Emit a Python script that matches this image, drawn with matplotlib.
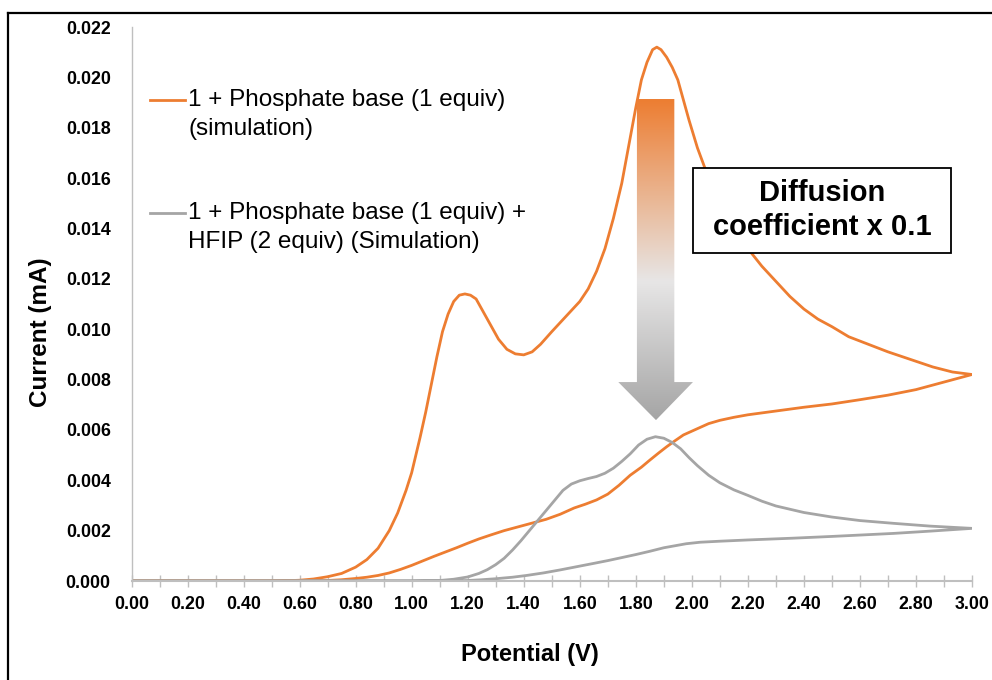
import numpy as np
import matplotlib
matplotlib.use('Agg')
import matplotlib.pyplot as plt
from matplotlib.patches import Polygon, Rectangle
from matplotlib.lines import Line2D
from matplotlib.colors import LinearSegmentedColormap
from matplotlib.ticker import MultipleLocator, FormatStrFormatter

plt.rcParams['font.family'] = ['Liberation Sans', 'DejaVu Sans']

# orange: 1 + phosphate base (1 equiv), simulated CV (forward then reverse scan)
orange_v = [0.00, 0.50, 0.55, 0.60, 0.65, 0.70, 0.75, 0.80, 0.84, 0.88, 0.92, 0.95,
            0.98, 1.00, 1.03, 1.05, 1.07, 1.09, 1.11, 1.13, 1.15, 1.17, 1.19, 1.21,
            1.23, 1.25, 1.28, 1.31, 1.34, 1.37, 1.40, 1.43, 1.46, 1.50, 1.55, 1.60,
            1.63, 1.66, 1.69, 1.72, 1.75, 1.78, 1.80, 1.82, 1.84, 1.86, 1.875, 1.89,
            1.91, 1.93, 1.95, 1.97, 1.99, 2.02, 2.05, 2.08, 2.11, 2.15, 2.20, 2.25,
            2.30, 2.35, 2.40, 2.45, 2.50, 2.56, 2.63, 2.70, 2.78, 2.86, 2.93, 3.00,
            2.95, 2.90, 2.80, 2.70, 2.60, 2.50, 2.40, 2.30, 2.20, 2.15, 2.10, 2.06,
            2.03, 2.00, 1.97, 1.94, 1.91, 1.88, 1.85, 1.82, 1.78, 1.74, 1.70, 1.66,
            1.62, 1.58, 1.53, 1.48, 1.43, 1.38, 1.33, 1.28, 1.24, 1.20, 1.16, 1.12,
            1.08, 1.04, 1.00, 0.96, 0.92, 0.88, 0.84, 0.80, 0.75, 0.70, 0.60, 0.00]
orange_i = [0.0, 0.0, 0.00001, 0.00003, 0.00008, 0.00017, 0.0003, 0.00055, 0.00085,
            0.0013, 0.0020, 0.0027, 0.0036, 0.0043, 0.0057, 0.0067, 0.0078, 0.0089,
            0.0099, 0.0106, 0.0111, 0.01135, 0.0114, 0.01135, 0.0112, 0.0108, 0.0102,
            0.0096, 0.0092, 0.00902, 0.00898, 0.0091, 0.0094, 0.0099, 0.0105, 0.0111,
            0.0116, 0.0123, 0.0132, 0.0144, 0.0158, 0.0176, 0.0188, 0.0199, 0.0206,
            0.0211, 0.0212, 0.0211, 0.0208, 0.0204, 0.0199, 0.0191, 0.0183, 0.0172,
            0.0163, 0.0155, 0.0148, 0.0140, 0.0132, 0.0125, 0.0119, 0.0113, 0.0108,
            0.0104, 0.0101, 0.0097, 0.0094, 0.0091, 0.0088, 0.0085, 0.0083, 0.0082,
            0.00805, 0.0079, 0.0076, 0.00738, 0.0072, 0.00703, 0.0069, 0.00675, 0.0066,
            0.0065, 0.00638, 0.00625, 0.0061, 0.00595, 0.0058, 0.00557, 0.00533,
            0.00507, 0.0048, 0.00452, 0.0042, 0.0038, 0.00345, 0.00322, 0.00305,
            0.0029, 0.00265, 0.00245, 0.0023, 0.00215, 0.0020, 0.00182, 0.00167,
            0.0015, 0.00132, 0.00115, 0.00098, 0.0008, 0.00062, 0.00046, 0.00032,
            0.00022, 0.00015, 0.0001, 0.00005, 0.00002, 0.0, 0.0]

# gray: 1 + phosphate base (1 equiv) + HFIP (2 equiv), simulated CV
gray_v = [0.00, 1.00, 1.10, 1.15, 1.20, 1.24, 1.27, 1.30, 1.33, 1.36, 1.39, 1.42, 1.45,
          1.48, 1.51, 1.54, 1.57, 1.60, 1.63, 1.66, 1.69, 1.72, 1.75, 1.78, 1.81, 1.84,
          1.87, 1.90, 1.93, 1.96, 1.99, 2.02, 2.06, 2.10, 2.15, 2.20, 2.25, 2.30, 2.40,
          2.50, 2.60, 2.72, 2.85, 3.00,
          2.85, 2.72, 2.50, 2.36, 2.20, 2.10, 2.03, 1.98, 1.94, 1.90, 1.85, 1.80, 1.75,
          1.70, 1.65, 1.59, 1.53, 1.47, 1.41, 1.36, 1.30, 1.25, 1.20, 1.10, 0.00]
gray_i = [0.0, 0.0, 0.00002, 0.00007, 0.00016, 0.0003, 0.00045, 0.00065, 0.0009, 0.00123,
          0.0016, 0.0020, 0.0024, 0.0028, 0.0032, 0.0036, 0.00385, 0.00398, 0.00407,
          0.00415, 0.00428, 0.00448, 0.00475, 0.00505, 0.0054, 0.00563, 0.00573, 0.00567,
          0.0055, 0.00525, 0.0049, 0.00458, 0.0042, 0.0039, 0.00362, 0.0034, 0.00317,
          0.00298, 0.00272, 0.00254, 0.0024, 0.00229, 0.00218, 0.00209,
          0.00198, 0.00189, 0.00177, 0.0017, 0.00163, 0.00158, 0.00154, 0.00148, 0.0014,
          0.00132, 0.00118, 0.00105, 0.00093, 0.00081, 0.0007, 0.00057, 0.00044, 0.00032,
          0.00022, 0.00015, 0.00009, 0.00005, 0.00002, 0.0, 0.0]

orange_label = ['1 + Phosphate base (1 equiv)', '(simulation)']
gray_label = ['1 + Phosphate base (1 equiv) +', 'HFIP (2 equiv) (Simulation)']

ORANGE = '#ED7D31'
GRAY = '#A5A5A5'
AXIS = '#BFBFBF'

W, H = 992, 680
fig = plt.figure(figsize=(W / 100, H / 100), dpi=100)
ax = fig.add_axes([131.5 / W, 1 - 581 / H, 840.5 / W, 554 / H])

ax.plot(orange_v, orange_i, color=ORANGE, lw=2.0, zorder=2, solid_joinstyle='round')
ax.plot(gray_v, gray_i, color=GRAY, lw=2.0, zorder=2, solid_joinstyle='round')

ax.set_xlim(0, 3.0)
ax.set_ylim(0, 0.022)
ax.xaxis.set_major_locator(MultipleLocator(0.2))
ax.xaxis.set_minor_locator(MultipleLocator(0.1))
ax.yaxis.set_major_locator(MultipleLocator(0.002))
ax.xaxis.set_major_formatter(FormatStrFormatter('%.2f'))
ax.yaxis.set_major_formatter(FormatStrFormatter('%.3f'))

for s in ['top', 'right']:
    ax.spines[s].set_visible(False)
ax.spines['left'].set_color(AXIS)
ax.spines['left'].set_linewidth(1.0)
ax.spines['bottom'].set_color(AXIS)
ax.spines['bottom'].set_linewidth(1.5)

ax.tick_params(axis='x', which='both', direction='inout', length=8, width=1,
               color=AXIS, labelsize=12.8, pad=7)
ax.tick_params(axis='y', length=0, labelsize=12.8, pad=15)
for lab in ax.get_xticklabels() + ax.get_yticklabels():
    lab.set_fontweight('bold')

ax.set_xlabel('Potential (V)', fontsize=17, fontweight='bold')
ax.xaxis.label.set_verticalalignment('center')
ax.xaxis.set_label_coords((530 - 131.5) / 840.5, (581 - 654) / 554)
ax.set_ylabel('Current (mA)', fontsize=17.5, fontweight='bold')
ax.yaxis.label.set_verticalalignment('center')
ax.yaxis.set_label_coords((41 - 131.5) / 840.5, (581 - 332) / 554)

# gradient arrow (orange -> light gray -> gray)
arrow_pts = [(1.804, 0.01914), (1.9375, 0.01914), (1.9375, 0.0079), (2.004, 0.0079),
             (1.872, 0.00639), (1.7375, 0.0079), (1.804, 0.0079)]
arrow = Polygon(arrow_pts, closed=True, transform=ax.transData,
                facecolor='none', edgecolor='none')
ax.add_patch(arrow)
cmap = LinearSegmentedColormap.from_list(
    'arr', [(0, '#A5A5A5'), (0.43, '#E7E6E6'), (1, ORANGE)])
grad = np.linspace(0, 1, 256)[:, None]
im = ax.imshow(grad, cmap=cmap, origin='lower', aspect='auto',
               extent=[1.7375, 2.004, 0.00639, 0.01914], zorder=3)
im.set_clip_path(arrow)
ax.set_xlim(0, 3.0)
ax.set_ylim(0, 0.022)

# text box
box = Rectangle((693.3 / W, 1 - 253.3 / H), (951 - 693.3) / W, (253.3 - 168.3) / H,
                transform=fig.transFigure, facecolor='white', edgecolor='black',
                lw=1.3, zorder=4)
fig.add_artist(box)
fig.text(822 / W, 1 - 193 / H, 'Diffusion', ha='center', va='center',
         fontsize=21, fontweight='bold', zorder=5)
fig.text(822 / W, 1 - 227 / H, 'coefficient x 0.1', ha='center', va='center',
         fontsize=21, fontweight='bold', zorder=5)

# legend drawn by hand (marker aligned with first text line)
for color, lines, y0 in [(ORANGE, orange_label, 100), (GRAY, gray_label, 213)]:
    fig.add_artist(Line2D([150 / W, 185 / W], [1 - y0 / H, 1 - y0 / H],
                          transform=fig.transFigure, color=color, lw=2.0))
    for k, txt in enumerate(lines):
        fig.text(188 / W, 1 - (y0 + 29 * k) / H, txt, ha='left', va='center',
                 fontsize=17.5)

# outer frame of the original graphic
fig.add_artist(Line2D([8.3 / W, 8.3 / W], [0, 1 - 13 / H], transform=fig.transFigure,
                      color='black', lw=1.6))
fig.add_artist(Line2D([8.3 / W, 1], [1 - 13 / H, 1 - 13 / H], transform=fig.transFigure,
                      color='black', lw=1.6))

fig.savefig('out.png', dpi=100)
